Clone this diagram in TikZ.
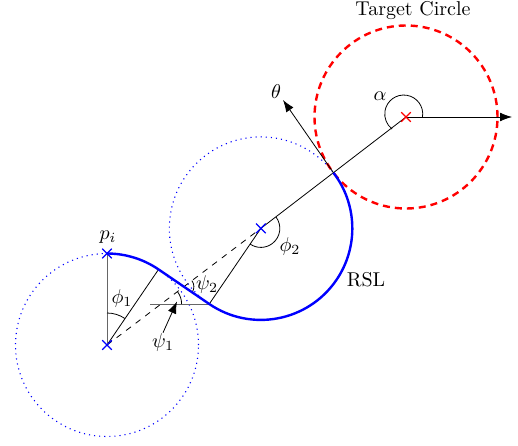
\documentclass[tikz,border=0pt]{standalone}
\usetikzlibrary{arrows.meta,shapes.misc}
\begin{document}
\begin{tikzpicture}[x=0.5pt,y=0.5pt,
  xmark/.style={cross out,draw=#1,line width=0.6pt,minimum size=4.2pt,inner sep=0pt},
  arr/.style={-{Latex[length=6pt,width=4.4pt]}},
  refline/.style={black!60},
  pathline/.style={blue,line width=1.2pt},
  dotcircle/.style={blue,line width=0.55pt,dotted},
  lbl/.style={inner sep=0pt}]
\useasboundingbox (0,0) rectangle (518,445);
% key points
\coordinate (C1) at (107,100);
\coordinate (PI) at (107,191.5);
\coordinate (C2) at (260.82,216.6);
\coordinate (CT) at (406,328);
\coordinate (T1) at (158.56,175.59);
\coordinate (T2) at (209.26,141.01);
\coordinate (P) at (333.41,272.3);
\coordinate (M) at (183.91,158.3);
\coordinate (I) at (161.10,141.01);
\coordinate (H) at (150,141.01);
\coordinate (TH) at (283,345);
\coordinate (E) at (512,328);
\coordinate (PT) at (177,143.5);
% circles
\draw[dotcircle] (C1) circle[radius=91.5];
\draw[dotcircle] (C2) circle[radius=91.5];
\draw[red,line width=1.2pt,dash pattern=on 3.5pt off 2.5pt] (CT) circle[radius=91.5];
% construction lines
\draw (CT) -- (C2) -- (T2);
\draw[dashed] (C1) -- (C2);
\draw (C1) -- (T1);
\draw[refline] (C1) -- (PI);
\draw[refline] (H) -- (T2);
% angle arcs
\draw (C1) ++(90:32) arc[start angle=90,end angle=55.7,radius=32];
\draw (C2) ++(37.5:19) arc[start angle=37.5,end angle=-124.3,radius=19];
\draw (M) ++(-34.3:10) arc[start angle=-34.3,end angle=37.17,radius=10];
\draw (I) ++(0:20.5) arc[start angle=0,end angle=37.17,radius=20.5];
\draw (CT) ++(16.5,0) arc[start angle=-9,end angle=232,radius=19];
% RSL path
\draw[pathline] (PI) arc[start angle=90,end angle=55.7,radius=91.5] -- (T2)
  arc[start angle=235.7,end angle=397.5,radius=91.5];
% arrows
\draw[arr] (CT) -- (E);
\draw[arr] (P) -- (TH);
% markers
\node[xmark=blue] (m1) at (C1) {};
\node[xmark=blue] (m0) at (PI) {};
\node[xmark=blue] (m2) at (C2) {};
\node[xmark=red] (mt) at (CT) {};
% labels
\node[lbl] (tc) at (413,434) {Target Circle};
\node[lbl] (th) at (276,353) {$\theta$};
\node[lbl] (al) at (380,349) {$\alpha$};
\node[lbl] (p2) at (290,199) {$\phi_2$};
\node[lbl] (rsl) at (366,165) {RSL};
\node[lbl] (pi) at (108,208) {$p_i$};
\node[lbl] (p1) at (122,147) {$\phi_1$};
\node[lbl] (s2) at (207,161) {$\psi_2$};
\node[lbl] (s1) at (163,103) {$\psi_1$};
\draw[arr] (s1.north) -- (PT);
\end{tikzpicture}
\end{document}
